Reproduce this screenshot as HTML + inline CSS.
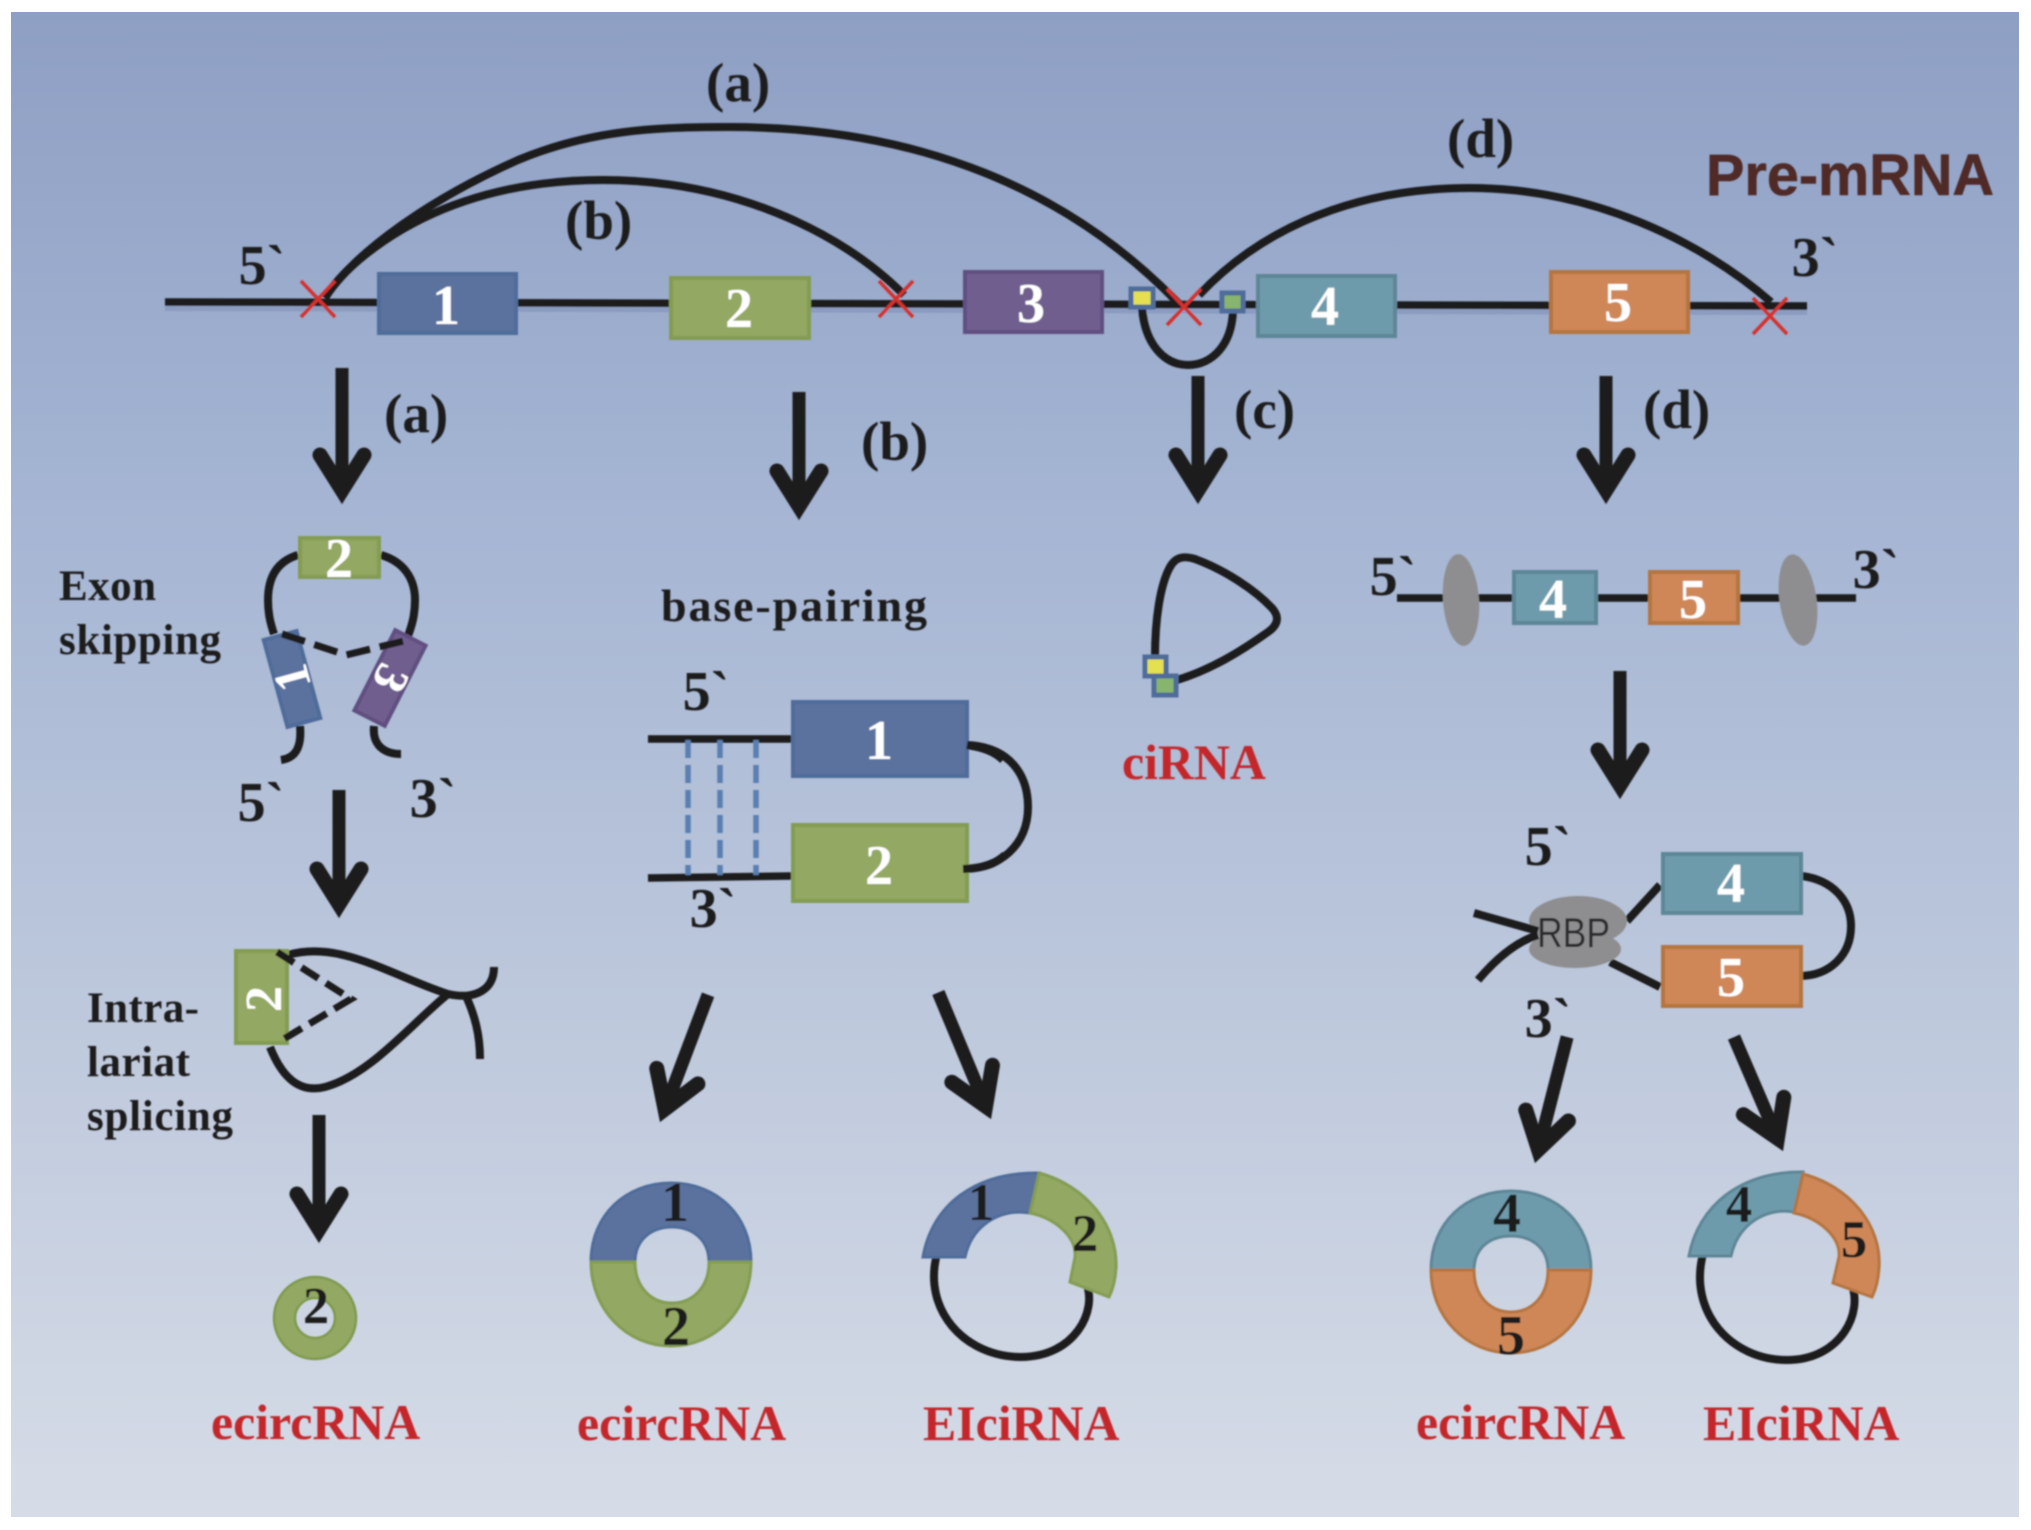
<!DOCTYPE html>
<html><head><meta charset="utf-8"><style>
html,body{margin:0;padding:0;background:#fff;width:2031px;height:1530px;overflow:hidden}
svg{display:block}
text{font-family:"Liberation Serif",serif;font-weight:bold;fill:#1c1c1e}
.w{fill:#fff;text-anchor:middle;font-size:56px}
.n{font-size:56px;text-anchor:middle}
.p{font-size:55px}
.r{fill:#c4252a;font-size:49.8px}
.l{font-size:43px}
.s{fill:none;stroke:#1a1a1c;stroke-width:8}
.a line{stroke:#1a1a1c;stroke-width:13}
.a path{fill:none;stroke:#1a1a1c;stroke-width:15;stroke-linecap:round;stroke-linejoin:miter;stroke-miterlimit:10}
.x{stroke:#d5332f;stroke-width:3.5;fill:none}
.bl{fill:#5b729e;stroke:#4f6c9a;stroke-width:4}
.gr{fill:#93a862;stroke:#839c52;stroke-width:4}
.pu{fill:#6f5e8e;stroke:#614f80;stroke-width:4}
.te{fill:#6e9bac;stroke:#5d8696;stroke-width:4}
.or{fill:#cf8758;stroke:#b5743f;stroke-width:4}
</style></head><body>
<svg width="2031" height="1530" viewBox="0 0 2031 1530" xmlns="http://www.w3.org/2000/svg">
<defs><linearGradient id="bg" x1="0" y1="0" x2="0" y2="1">
<stop offset="0" stop-color="#8e9fc4"/><stop offset=".33" stop-color="#a5b5d3"/><stop offset=".66" stop-color="#bdc8dc"/><stop offset="1" stop-color="#d6dce7"/>
</linearGradient>
<filter id="b" x="-2%" y="-2%" width="104%" height="104%"><feGaussianBlur stdDeviation="0.7"/></filter></defs>
<rect x="11" y="12" width="2008" height="1505" fill="url(#bg)"/>
<g filter="url(#b)">
<!-- main line -->
<path d="M165 302 L1807 306" stroke="#8092b8" stroke-width="8" transform="translate(0,5)" opacity=".6"/>
<path d="M165 302 L1807 306" stroke="#1a1a1c" stroke-width="7.5"/>
<!-- arcs -->
<path class="s" d="M325 298 C345 265 410 208 518 160 C590 130 655 127 729 127 C920 127 1070 190 1180 305"/>
<path class="s" d="M325 298 C345 265 395 227 454 205 C500 188 550 180 603 180 C730 180 840 230 904 295"/>
<path class="s" d="M1199 295 C1265 225 1360 188 1470 188 C1590 188 1700 240 1771 302"/>
<path class="s" d="M1142 308 C1145 345 1165 365 1188 365 C1212 365 1232 345 1233 310"/>
<!-- boxes -->
<rect class="bl" x="379" y="274" width="137" height="59"/>
<rect class="gr" x="671" y="278" width="138" height="60"/>
<rect class="pu" x="965" y="272" width="137" height="60"/>
<rect class="te" x="1258" y="276" width="137" height="60"/>
<rect class="or" x="1551" y="272" width="137" height="60"/>
<text class="w" x="446" y="324">1</text>
<text class="w" x="739" y="327">2</text>
<text class="w" x="1031" y="322">3</text>
<text class="w" x="1325" y="325">4</text>
<text class="w" x="1618" y="321">5</text>
<!-- small squares -->
<rect x="1131" y="289" width="22" height="18" fill="#e4e050" stroke="#4f6c9a" stroke-width="5"/>
<rect x="1222" y="293" width="21" height="18" fill="#87b56d" stroke="#4f6c9a" stroke-width="5"/>
<!-- X -->
<path class="x" d="M301 281 L335 317 M335 281 L301 317"/>
<path class="x" d="M879 281 L913 317 M913 281 L879 317"/>
<path class="x" d="M1167 289 L1201 325 M1201 289 L1167 325"/>
<path class="x" d="M1753 298 L1787 334 M1787 298 L1753 334"/>
<!-- labels top -->
<text class="p" x="706" y="101">(a)</text>
<text class="p" x="565" y="239">(b)</text>
<text class="p" x="1447" y="157">(d)</text>
<text class="p" x="384" y="432">(a)</text>
<text class="p" x="861" y="460">(b)</text>
<text class="p" x="1234" y="428">(c)</text>
<text class="p" x="1643" y="428">(d)</text>
<text class="n" x="262" y="284">5`</text>
<text class="n" x="1815" y="276">3`</text>
<text x="1706" y="195" textLength="288" lengthAdjust="spacingAndGlyphs" style="font-family:'Liberation Sans',sans-serif;font-size:58px;fill:#4f2a28;stroke:#4f2a28;stroke-width:.6">Pre-mRNA</text>
<!-- arrows -->
<g class="a">
<g transform="translate(342,504)"><line y1="-136" y2="-20"/><path d="M-22 -49 L0 -14 L22 -49"/></g>
<g transform="translate(799,520)"><line y1="-128" y2="-20"/><path d="M-22 -49 L0 -14 L22 -49"/></g>
<g transform="translate(1198,504)"><line y1="-128" y2="-20"/><path d="M-22 -49 L0 -14 L22 -49"/></g>
<g transform="translate(1606,504)"><line y1="-128" y2="-20"/><path d="M-22 -49 L0 -14 L22 -49"/></g>
<g transform="translate(339,918)"><line y1="-128" y2="-20"/><path d="M-22 -49 L0 -14 L22 -49"/></g>
<g transform="translate(319,1243)"><line y1="-128" y2="-20"/><path d="M-22 -49 L0 -14 L22 -49"/></g>
<g transform="translate(1620,799)"><line y1="-128" y2="-20"/><path d="M-22 -49 L0 -14 L22 -49"/></g>
<g transform="translate(660,1122) rotate(20.7)"><line y1="-136" y2="-20"/><path d="M-22 -49 L0 -14 L22 -49"/></g>
<g transform="translate(991,1119) rotate(-22.6)"><line y1="-137" y2="-20"/><path d="M-22 -49 L0 -14 L22 -49"/></g>
<g transform="translate(1535,1163) rotate(14.3)"><line y1="-130" y2="-20"/><path d="M-22 -49 L0 -14 L22 -49"/></g>
<g transform="translate(1783,1151) rotate(-23.3)"><line y1="-124" y2="-20"/><path d="M-22 -49 L0 -14 L22 -49"/></g>
</g>
<!-- Exon skipping -->
<text class="l" x="59" y="600" textLength="97">Exon</text>
<text class="l" x="59" y="654" textLength="162">skipping</text>
<path class="s" d="M298 555 C275 562 268 580 268 600 C268 615 271 625 274 634"/>
<path class="s" d="M381 555 C405 562 415 580 415 600 C415 615 412 625 408 636"/>
<rect class="gr" x="300" y="538" width="79" height="39"/>
<text class="w" x="339" y="577">2</text>
<g transform="translate(292,679) rotate(-15.3)"><rect class="bl" x="-17" y="-45" width="34" height="90"/><text class="w" transform="rotate(-90)" x="1" y="17" style="font-size:50px">1</text></g>
<g transform="translate(390,678) rotate(27)"><rect class="pu" x="-17" y="-45" width="34" height="90"/><text class="w" transform="translate(-15,0) rotate(90)" style="font-size:48px">3</text></g>
<path d="M282 634 L346 655 L408 640" fill="none" stroke="#1a1a1c" stroke-width="7" stroke-dasharray="24 10"/>
<path class="s" d="M300 726 C302 748 295 758 281 760"/>
<path class="s" d="M374 726 C372 745 384 754 401 754"/>
<text class="n" x="261" y="821">5`</text>
<text class="n" x="433" y="817">3`</text>
<!-- Intra-lariat -->
<text class="l" x="87" y="1022" textLength="112">Intra-</text>
<text class="l" x="87" y="1076" textLength="103">lariat</text>
<text class="l" x="87" y="1130" textLength="146">splicing</text>
<path class="s" d="M288 955 C340 940 390 975 448 994 C475 1000 494 990 494 967"/>
<path class="s" d="M270 1047 C285 1085 305 1092 325 1087 C370 1075 410 1025 448 994"/>
<path class="s" d="M465 994 C475 1015 480 1035 480 1059"/>
<rect class="gr" x="236" y="951" width="51" height="92"/>
<text class="w" transform="translate(281,999) rotate(-90)" style="font-size:52px">2</text>
<path d="M277 952 L351 999 L277 1043" fill="none" stroke="#1a1a1c" stroke-width="7" stroke-dasharray="20 9"/>
<!-- small ring -->
<circle cx="315" cy="1318" r="31" fill="none" stroke="#93a862" stroke-width="22"/>
<circle cx="315" cy="1318" r="41" fill="none" stroke="#7f9a50" stroke-width="2.5"/>
<circle cx="315" cy="1318" r="20" fill="none" stroke="#7f9a50" stroke-width="2.5"/>
<text class="n" x="316" y="1323" style="font-size:52px">2</text>
<text class="r" x="211" y="1439">ecircRNA</text>
<!-- base-pairing -->
<text x="661" y="621" textLength="266" style="font-size:46px">base-pairing</text>
<path d="M648 739 L791 739 M648 878 L791 876" stroke="#1a1a1c" stroke-width="7.5"/>
<path d="M688 740 V875 M720 740 V875 M756 740 V875" stroke="#5a7fb0" stroke-width="5.5" stroke-dasharray="18 7"/>
<path class="s" d="M967 745 C1010 747 1028 775 1028 807 C1028 845 1000 869 963 869"/>
<rect class="bl" x="793" y="702" width="174" height="74"/>
<rect class="gr" x="793" y="825" width="174" height="76"/>
<path class="s" d="M967 745 C985 748 995 752 1003 760"/>
<path class="s" d="M963 869 C985 868 995 864 1005 855"/>
<text class="w" x="879" y="759">1</text>
<text class="w" x="879" y="884">2</text>
<text class="n" x="706" y="710">5`</text>
<text class="n" x="713" y="927">3`</text>
<!-- donut 1 -->
<path class="bl" style="stroke-width:3" d="M591 1262 C591 1215 626 1183 671 1183 C716 1183 751 1215 751 1262 L709 1262 C709 1240 693 1227 672 1227 C651 1227 635 1240 635 1262 Z"/>
<path class="gr" style="stroke-width:3" d="M591 1262 C591 1309 626 1346 671 1346 C716 1346 751 1309 751 1262 L709 1262 C709 1287 693 1303 672 1303 C651 1303 635 1287 635 1262 Z"/>
<text class="n" x="675" y="1221">1</text>
<text class="n" x="676" y="1345">2</text>
<text class="r" x="577" y="1440">ecircRNA</text>
<!-- EIciRNA 1 -->
<path class="s" d="M937 1254 C922 1310 965 1357 1021 1357 C1075 1357 1098 1310 1086 1283"/>
<path class="bl" style="stroke-width:3" d="M923 1257 C932 1205 975 1172 1039 1173 L1030 1213 C1000 1208 972 1225 965 1257 Z"/>
<path class="gr" style="stroke-width:3" d="M1039 1173 C1085 1185 1118 1225 1116 1268 Q1115 1285 1109 1297 L1070 1282 L1075 1257 C1077 1237 1055 1218 1030 1213 Z"/>
<text class="n" x="981" y="1220" style="font-size:53px">1</text>
<text class="n" x="1085" y="1251" style="font-size:53px">2</text>
<text class="r" x="923" y="1440">EIciRNA</text>
<!-- ciRNA -->
<path class="s" d="M1155 657 C1155 620 1160 585 1170 567 C1176 556 1185 556 1195 559 C1225 570 1255 590 1272 608 C1280 617 1278 625 1268 632 C1240 652 1210 670 1177 680"/>
<rect x="1145" y="657" width="21" height="19" fill="#e4e050" stroke="#4f6c9a" stroke-width="5"/>
<rect x="1154" y="676" width="22" height="19" fill="#87b56d" stroke="#4f6c9a" stroke-width="5"/>
<text class="r" x="1122" y="779">ciRNA</text>
<!-- right line -->
<path d="M1397 598 H1856" stroke="#1a1a1c" stroke-width="7.5"/>
<ellipse cx="1461" cy="600" rx="18" ry="46" fill="#8e8e90" transform="rotate(-4 1461 600)"/>
<ellipse cx="1798" cy="600" rx="18.5" ry="46" fill="#8e8e90" transform="rotate(-8 1798 600)"/>
<rect class="te" x="1514" y="572" width="82" height="51"/>
<rect class="or" x="1650" y="572" width="88" height="51"/>
<text class="w" x="1553" y="618">4</text>
<text class="w" x="1693" y="618">5</text>
<text class="n" x="1393" y="595">5`</text>
<text class="n" x="1876" y="588">3`</text>
<!-- RBP -->
<text class="n" x="1548" y="865">5`</text>
<text class="n" x="1548" y="1037">3`</text>
<path class="s" d="M1802 876 C1832 880 1851 900 1851 926 C1851 955 1830 976 1799 976"/>
<path class="s" d="M1627 921 L1660 885 M1610 962 L1660 987"/>
<rect class="te" x="1663" y="854" width="138" height="59"/>
<rect class="or" x="1663" y="947" width="138" height="59"/>
<text class="w" x="1731" y="902">4</text>
<text class="w" x="1731" y="996">5</text>
<ellipse cx="1578" cy="921" rx="49" ry="25" fill="#8e8e90"/>
<ellipse cx="1575" cy="949" rx="46" ry="19" fill="#8e8e90"/>
<path class="s" d="M1474 913 L1538 931"/>
<path class="s" d="M1478 980 C1495 960 1515 942 1538 935"/>
<text x="1537" y="947" textLength="73" lengthAdjust="spacingAndGlyphs" style="font-family:'Liberation Sans',sans-serif;font-weight:normal;font-size:42px;fill:#2a2a2c">RBP</text>
<!-- donut 2 -->
<path class="te" style="stroke-width:3" d="M1431 1270 C1431 1223 1466 1191 1511 1191 C1556 1191 1591 1223 1591 1270 L1548 1270 C1548 1248 1532 1236 1511 1236 C1490 1236 1474 1248 1474 1270 Z"/>
<path class="or" style="stroke-width:3" d="M1431 1270 C1431 1317 1466 1353 1511 1353 C1556 1353 1591 1317 1591 1270 L1548 1270 C1548 1296 1532 1312 1511 1312 C1490 1312 1474 1296 1474 1270 Z"/>
<text class="n" x="1507" y="1232">4</text>
<text class="n" x="1511" y="1354">5</text>
<text class="r" x="1416" y="1439">ecircRNA</text>
<!-- EIciRNA 2 -->
<path class="s" d="M1703 1254 C1688 1312 1731 1360 1787 1360 C1841 1360 1864 1312 1851 1283"/>
<path class="te" style="stroke-width:3" d="M1689 1256 C1698 1206 1741 1171 1803 1172 L1794 1212 C1766 1207 1738 1224 1731 1256 Z"/>
<path class="or" style="stroke-width:3" d="M1803 1174 C1849 1186 1882 1225 1879 1268 Q1878 1285 1872 1297 L1833 1283 L1839 1257 C1841 1237 1819 1218 1794 1213 Z"/>
<text class="n" x="1739" y="1222" style="font-size:53px">4</text>
<text class="n" x="1854" y="1257" style="font-size:53px">5</text>
<text class="r" x="1703" y="1440">EIciRNA</text>
</g>
</svg>
</body></html>
